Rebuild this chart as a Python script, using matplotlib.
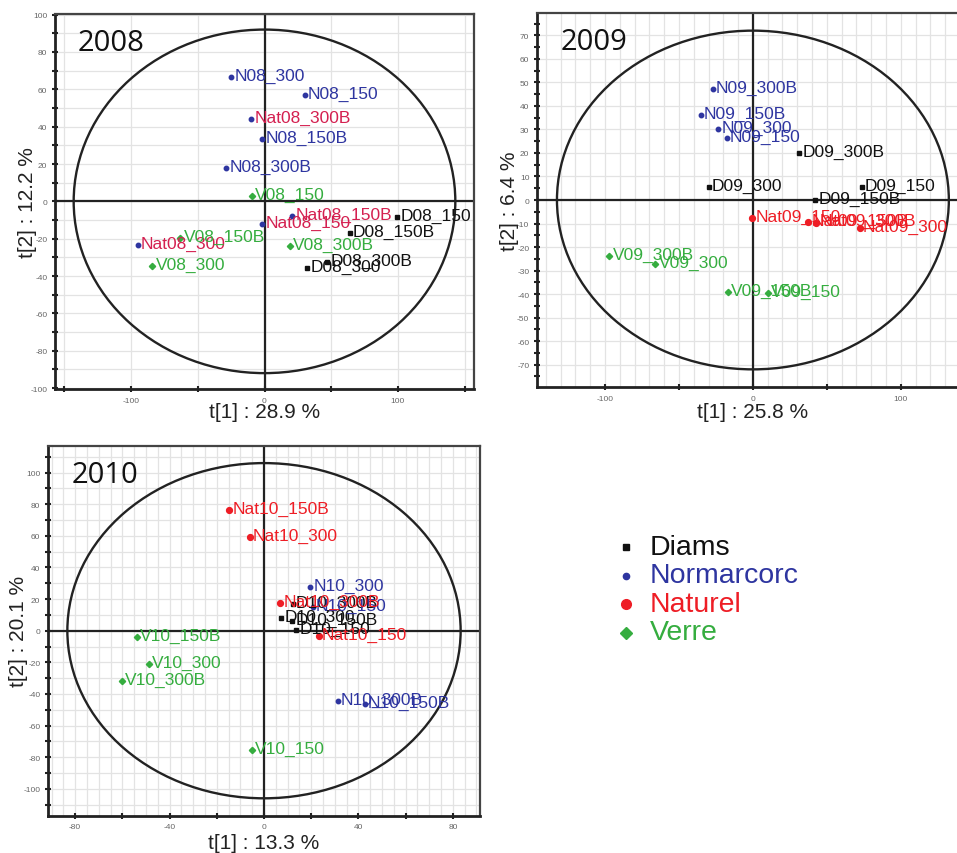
import numpy as np
import matplotlib
matplotlib.use("Agg")
import matplotlib.pyplot as plt
from matplotlib.patches import Ellipse

plt.rcParams['font.family'] = ['Liberation Sans', 'DejaVu Sans']
plt.rcParams['axes.unicode_minus'] = False

# ---------------- data ----------------
groups = ["Diams", "Normarcorc", "Naturel", "Verre"]

labels_2008 = ["D08_150", "D08_150B", "D08_300", "D08_300B",
               "N08_300", "N08_150", "N08_150B", "N08_300B",
               "Nat08_300B", "Nat08_150B", "Nat08_150", "Nat08_300",
               "V08_150", "V08_150B", "V08_300B", "V08_300"]
x_2008 = [99.5, 64, 32, 47, -25, 30, -1.75, -28.75, -10, 20.75, -1.5, -95, -9.5, -63, 18.75, -84]
y_2008 = [-8.6, -17.1, -35.9, -32.6, 66.4, 56.7, 33.2, 17.8, 43.9, -7.7, -12.3, -23.4, 2.7, -19.8, -24.1, -34.8]
grp_2008 = ["Diams"] * 4 + ["Normarcorc"] * 4 + ["Naturel"] * 4 + ["Verre"] * 4

labels_2009 = ["D09_300B", "D09_300", "D09_150", "D09_150B",
               "N09_300B", "N09_150B", "N09_300", "N09_150",
               "Nat09_150", "Nat09_150B", "Nat09_300B", "Nat09_300",
               "V09_300B", "V09_300", "V09_150B", "V09_150"]
x_2009 = [31.3, -29.7, 73.6, 42.3, -27.2, -35.3, -23.4, -17.5, -0.4, 37.5, 43.0, 72.4, -97, -65.9, -17.1, 9.9]
y_2009 = [20.0, 5.5, 5.4, 0.1, 47.3, 36.0, 30.3, 26.4, -7.5, -9.4, -9.6, -11.8, -23.9, -27.1, -39.1, -39.7]
grp_2009 = ["Diams"] * 4 + ["Normarcorc"] * 4 + ["Naturel"] * 4 + ["Verre"] * 4

labels_2010 = ["D10_300B", "D10_300", "D10_150B", "D10_150",
               "N10_300", "N10_150", "N10_300B", "N10_150B",
               "Nat10_150B", "Nat10_300", "Nat10_300B", "Nat10_150",
               "V10_150B", "V10_300", "V10_300B", "V10_150"]
x_2010 = [12.3, 7.3, 12.0, 13.6, 19.6, 20.6, 31.3, 42.6, -14.7, -6.1, 6.9, 23.3, -53.8, -48.7, -60.1, -5.1]
y_2010 = [17.0, 7.8, 6.1, 0.3, 27.5, 15.0, -44.3, -46.4, 76.5, 59.2, 17.6, -3.4, -3.8, -21.2, -31.7, -75.2]
grp_2010 = ["Diams"] * 4 + ["Normarcorc"] * 4 + ["Naturel"] * 4 + ["Verre"] * 4

years = ["2008", "2009", "2010"]
xlabels = ["t[1] : 28.9 %", "t[1] : 25.8 %", "t[1] : 13.3 %"]
ylabels = ["t[2] : 12.2 %", "t[2] : 6.4 %", "t[2] : 20.1 %"]
ellipse_a = [143, 132.5, 83.3]
ellipse_b = [92, 72, 106]

# ---------------- style ----------------
colors = {"Diams": "#111111", "Normarcorc": "#2e35a0", "Naturel": "#ee1d25", "Verre": "#35ad3f"}
markers = {"Diams": "s", "Normarcorc": "o", "Naturel": "o", "Verre": "D"}
msizes = {"Diams": 3.2, "Normarcorc": 3.2, "Naturel": 4.2, "Verre": 3.2}

fig = plt.figure(figsize=(9.57, 8.54), dpi=100)
W, H = 957.0, 854.0

def add_axes_px(left, top, right, bottom):
    return fig.add_axes([left / W, 1 - bottom / H, (right - left) / W, (bottom - top) / H])

ax1 = add_axes_px(55, 14.7, 474, 390)
ax2 = add_axes_px(537, 14, 968.8, 388)
ax3 = add_axes_px(48, 446.7, 480, 816.7)

specs = [
    dict(ax=ax1, lab=labels_2008, x=x_2008, y=y_2008, g=grp_2008,
         xlim=(-157, 157), ylim=(-100.5, 100.5),
         xmaj=100, xmin=50, ymaj=20, ymin=10, gx=50, gy=10, xpad=-1, ypad=-4.5),
    dict(ax=ax2, lab=labels_2009, x=x_2009, y=y_2009, g=grp_2009,
         xlim=(-146, 146), ylim=(-79.5, 79.5),
         xmaj=100, xmin=50, ymaj=10, ymin=5, gx=10, gy=10, xpad=0, ypad=-1.5),
    dict(ax=ax3, lab=labels_2010, x=x_2010, y=y_2010, g=grp_2010,
         xlim=(-91.5, 91.5), ylim=(-117, 117),
         xmaj=40, xmin=20, ymaj=20, ymin=10, gx=5, gy=10, xpad=2, ypad=-3),
]

for i, s in enumerate(specs):
    ax = s["ax"]
    ax.set_xlim(*s["xlim"])
    ax.set_ylim(*s["ylim"])
    ax.set_facecolor("white")
    # grid
    for gxv in np.arange(-300, 301, s["gx"]):
        if s["xlim"][0] < gxv < s["xlim"][1]:
            ax.axvline(gxv, color="#e3e3e3", lw=0.9, zorder=0)
    for gyv in np.arange(-300, 301, s["gy"]):
        if s["ylim"][0] < gyv < s["ylim"][1]:
            ax.axhline(gyv, color="#e3e3e3", lw=0.9, zorder=0)
    ax.axhline(0, color="#222222", lw=1.6, zorder=1)
    ax.axvline(0, color="#222222", lw=1.6, zorder=1)
    ax.add_patch(Ellipse((0, 0), 2 * ellipse_a[i], 2 * ellipse_b[i], fill=False,
                         edgecolor="#222222", lw=1.7, zorder=2))
    # ticks
    ax.xaxis.set_major_locator(matplotlib.ticker.MultipleLocator(s["xmaj"]))
    ax.xaxis.set_minor_locator(matplotlib.ticker.MultipleLocator(s["xmin"]))
    ax.yaxis.set_major_locator(matplotlib.ticker.MultipleLocator(s["ymaj"]))
    ax.yaxis.set_minor_locator(matplotlib.ticker.MultipleLocator(s["ymin"]))
    ax.xaxis.set_major_formatter(matplotlib.ticker.FormatStrFormatter("%d"))
    ax.yaxis.set_major_formatter(matplotlib.ticker.FormatStrFormatter("%d"))
    ax.tick_params(which="both", direction="inout", length=5, width=1.5, color="#222222",
                   labelsize=6, labelcolor="#666666", pad=3)
    for sp in ["left", "bottom"]:
        ax.spines[sp].set_linewidth(2.0)
        ax.spines[sp].set_color("#222222")
    for sp in ["top", "right"]:
        ax.spines[sp].set_linewidth(1.6)
        ax.spines[sp].set_color("#444444")
    # points
    for name, xv, yv, g in zip(s["lab"], s["x"], s["y"], s["g"]):
        mcol = colors[g]
        tcol = colors[g]
        ms = msizes[g]
        if years[i] == "2008" and g == "Naturel":
            mcol = colors["Normarcorc"]
            tcol = "#d42050"
            ms = msizes["Normarcorc"]
        ax.plot(xv, yv, marker=markers[g], ms=ms, color=mcol, mec=mcol, ls="none", zorder=4)
        ax.annotate(name, (xv, yv), xytext=(2.2, 1.2), textcoords="offset points",
                    ha="left", va="center", fontsize=12.5, color=tcol, zorder=5)
    ax.text(0.055, 0.962, years[i], transform=ax.transAxes, fontsize=21,
            family=["Open Sans", "DejaVu Sans"], ha="left", va="top", color="#111111", zorder=6)
    ax.set_xlabel(xlabels[i], fontsize=15, color="#222222", labelpad=s["xpad"])
    ax.set_ylabel(ylabels[i], fontsize=15, color="#222222", labelpad=s["ypad"])

# ---------------- legend ----------------
leg_ax = fig.add_axes([0, 0, 1, 1], facecolor="none")
leg_ax.set_xlim(0, W)
leg_ax.set_ylim(H, 0)
leg_ax.axis("off")
leg_ms = {"Diams": 5, "Normarcorc": 4.5, "Naturel": 7, "Verre": 6}
for k, g in enumerate(groups):
    yy = 548 + k * 28.5
    leg_ax.plot([626], [yy], marker=markers[g], ms=leg_ms[g], color=colors[g], ls="none")
    leg_ax.text(650, yy, g, fontsize=20.5, color=colors[g], va="center", ha="left")

fig.savefig("out.png", dpi=100)
